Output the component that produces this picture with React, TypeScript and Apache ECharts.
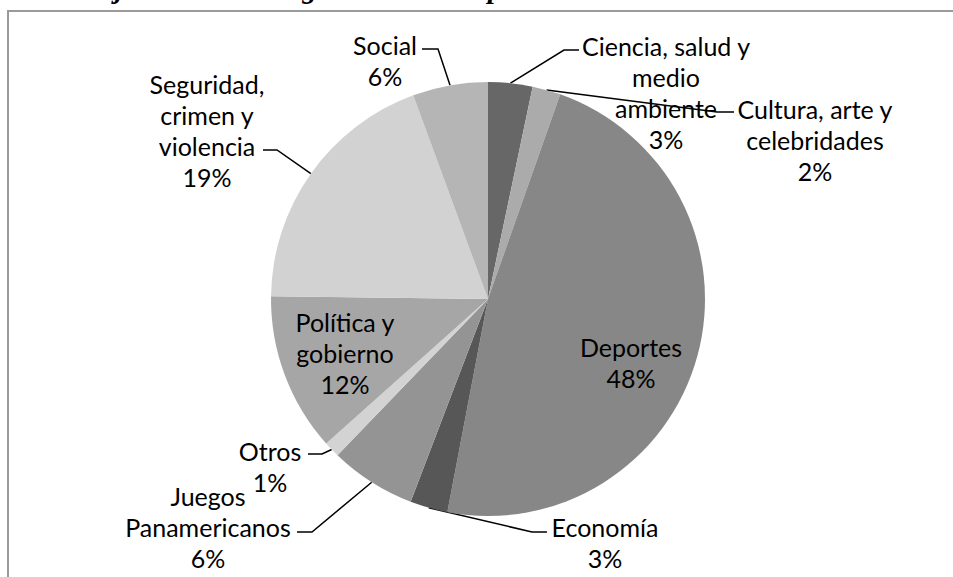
import React, { useEffect, useRef } from "react";
import * as echarts from "echarts";

// ---- data ----
const categories = [
  "Ciencia, salud y\nmedio\nambiente",
  "Cultura, arte y\ncelebridades",
  "Deportes",
  "Economía",
  "Juegos\nPanamericanos",
  "Otros",
  "Política y\ngobierno",
  "Seguridad,\ncrimen y\nviolencia",
  "Social",
];
const shares = [3.3, 2.1, 47.6, 2.8, 6.4, 1.2, 11.8, 19.2, 5.6];
const sliceColors = [
  "#676767",
  "#ababab",
  "#878787",
  "#575757",
  "#949494",
  "#d3d3d3",
  "#a6a6a6",
  "#d2d2d2",
  "#b5b5b5",
];
const titleText = "Porcentaje de noticias según tema en la portada";

// ---- label placement (layout only) ----
type LabelPlace = { x: number; y: number; elbow?: number[]; anchor?: number[] };
const labelPlaces: LabelPlace[] = [
  { x: 666, y: 92, elbow: [564, 50], anchor: [579, 50] },
  { x: 815, y: 140, elbow: [717, 112], anchor: [734, 112] },
  { x: 631, y: 362 },
  { x: 605, y: 542, elbow: [532, 532], anchor: [547, 532] },
  { x: 208, y: 527, elbow: [312, 532], anchor: [297, 532] },
  { x: 270, y: 466, elbow: [322, 454], anchor: [308, 454] },
  { x: 345, y: 353 },
  { x: 207, y: 130, elbow: [277, 150], anchor: [263, 150] },
  { x: 385, y: 60, elbow: [438, 49], anchor: [422, 49] },
];

const CENTER = [488, 299];
const RADIUS = 217;

export default function App() {
  const ref = useRef<HTMLDivElement>(null);
  useEffect(() => {
    if (!ref.current) return;
    const chart = echarts.init(ref.current, null, { renderer: "svg" });
    const total = shares.reduce((a, b) => a + b, 0);
    const midPoint = (i: number) => {
      let before = 0;
      for (let k = 0; k < i; k++) before += shares[k];
      const frac = (before + shares[i] / 2) / total;
      const ang = frac * Math.PI * 2;
      return [CENTER[0] + RADIUS * Math.sin(ang), CENTER[1] - RADIUS * Math.cos(ang)];
    };
    chart.setOption({
      animation: false,
      backgroundColor: "#ffffff",
      graphic: [
        {
          type: "rect",
          shape: { x: 8, y: 11, width: 1100, height: 700 },
          style: { fill: "none", stroke: "#9a9a9a", lineWidth: 2 },
          silent: true,
        },
        {
          type: "text",
          x: 7,
          y: -12,
          silent: true,
          style: {
            text: titleText,
            fontFamily: "Liberation Serif",
            fontStyle: "italic",
            fontWeight: "bold",
            fontSize: 29,
            lineHeight: 29,
            verticalAlign: "middle",
            align: "left",
            fill: "#000",
          },
        },
      ],
      series: [
        {
          type: "pie",
          center: CENTER,
          radius: RADIUS,
          startAngle: 90,
          clockwise: true,
          avoidLabelOverlap: false,
          silent: true,
          emphasis: { disabled: true },
          itemStyle: { borderWidth: 0 },
          label: {
            show: true,
            position: "outside",
            fontFamily: "Lato",
            fontSize: 25,
            lineHeight: 31,
            color: "#000",
            formatter: (p: any) => `${p.name}\n${Math.round(p.value * 100 / total)}%`,
          },
          labelLine: {
            show: true,
            lineStyle: { color: "#000", width: 1.5 },
          },
          labelLayout: (params: any) => {
            const L = labelPlaces[params.dataIndex];
            const out: any = { x: L.x, y: L.y, align: "center", verticalAlign: "middle" };
            if (L.anchor && L.elbow) {
              const p0 = midPoint(params.dataIndex);
              out.labelLinePoints = [p0, L.elbow, L.anchor];
            }
            return out;
          },
          data: categories.map((name, i) => ({
            name,
            value: shares[i],
            itemStyle: { color: sliceColors[i] },
            labelLine: { show: !!labelPlaces[i].anchor },
          })),
        },
      ],
    });
    return () => chart.dispose();
  }, []);
  return (
    <div
      ref={ref}
      style={{ position: "fixed", left: 0, top: 0, width: 953, height: 577 }}
    />
  );
}
